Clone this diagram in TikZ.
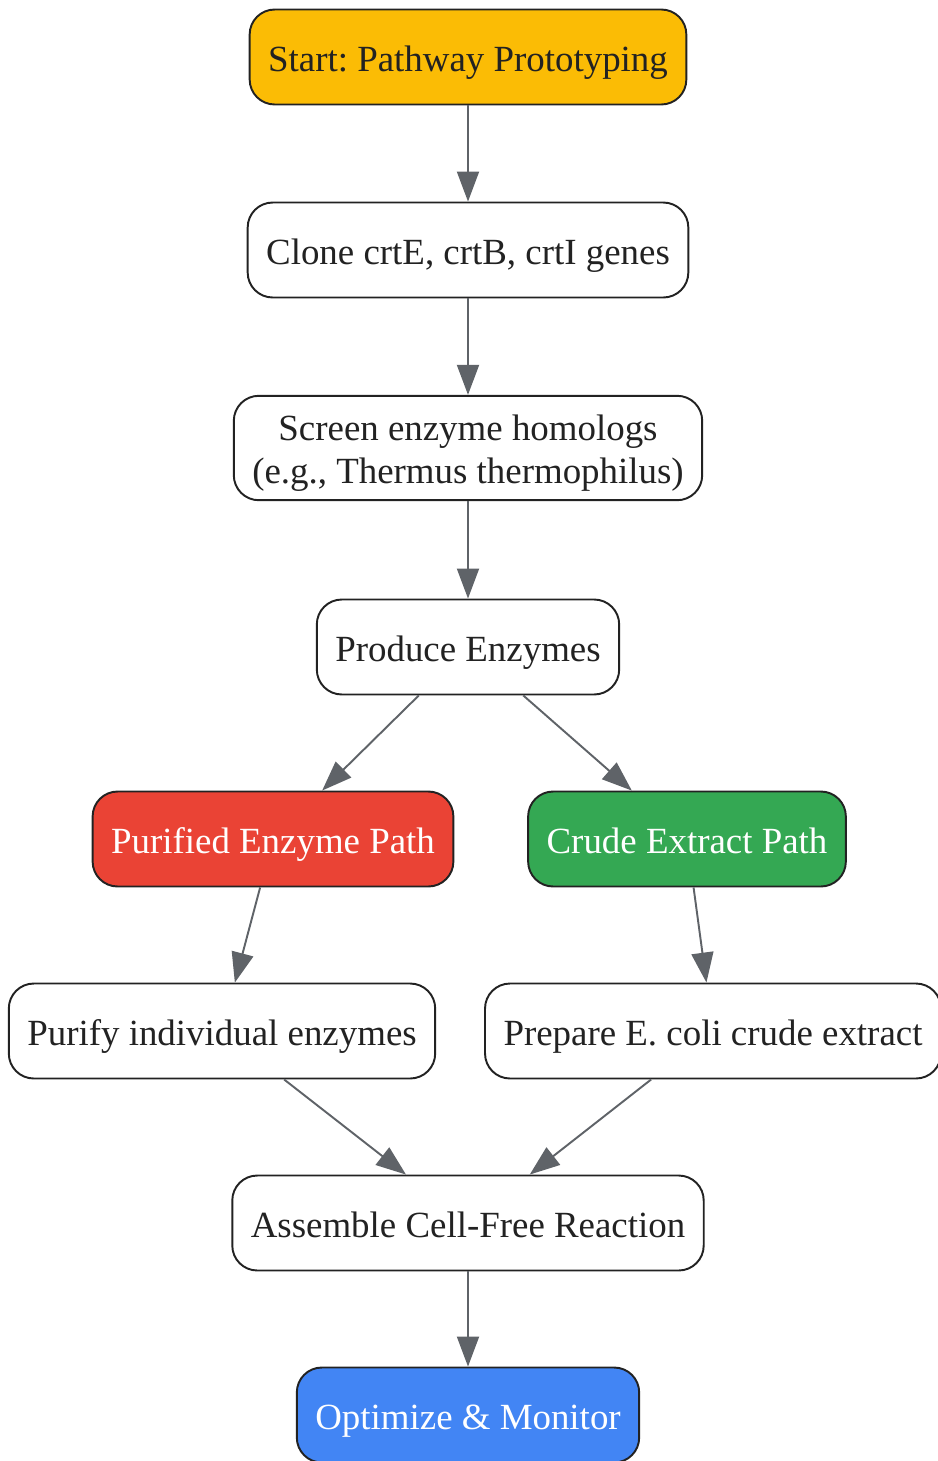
\documentclass[tikz,border=0pt]{standalone}
\usepackage{fontspec}
\setmainfont{Liberation Serif}
\frenchspacing
\usetikzlibrary{arrows.meta}
\definecolor{startyellow}{HTML}{FBBC05}
\definecolor{pathred}{HTML}{EA4335}
\definecolor{pathgreen}{HTML}{34A853}
\definecolor{endblue}{HTML}{4285F4}
\definecolor{edgegray}{HTML}{5F6368}
\definecolor{inkdark}{HTML}{222222}

\begin{document}
\begin{tikzpicture}[x=0.02cm,y=-0.02cm,
        stepbox/.style={draw=inkdark, line width=1.1pt, rounded corners=0.5cm, fill=white,
            text=inkdark, minimum height=1.9cm, inner xsep=0.37cm, inner ysep=0.3cm,
            text height=19pt, text depth=2.6pt,
            align=center, font=\fontsize{21}{24.4}\selectfont},
        whitetext/.style={text=white},
        flow/.style={draw=edgegray, line width=1.1pt, -{Triangle[length=0.6cm,width=0.44cm]}}]
        \useasboundingbox (0,0) rectangle (937,1461);

        \node[stepbox, fill=startyellow] (start) at (468,57) {Start: Pathway Prototyping};
        \node[stepbox] (clone) at (468,250) {Clone crtE, crtB, crtI genes};
        \node[stepbox, text height=43pt, text depth=2.2pt, inner ysep=0.25cm] (screen) at (468,448)
            {Screen enzyme homologs\\(e.g., Thermus thermophilus)};
        \node[stepbox] (produce) at (468,647) {Produce Enzymes};

        \node[stepbox, fill=pathred, whitetext] (purified) at (273,839) {Purified Enzyme Path};
        \node[stepbox, fill=pathgreen, whitetext] (crude) at (687,839) {Crude Extract Path};

        \node[stepbox] (purify) at (222,1031) {Purify individual enzymes};
        \node[stepbox] (prepare) at (713,1031) {Prepare E. coli crude extract};

        \node[stepbox] (assemble) at (468,1223) {Assemble Cell-Free Reaction};
        \node[stepbox, fill=endblue, whitetext] (optimize) at (468,1415) {Optimize \& Monitor};

        \draw[flow] (start) -- (clone);
        \draw[flow] (clone) -- (screen);
        \draw[flow] (screen) -- (produce);
        \draw[flow] (produce) -- (purified);
        \draw[flow] (produce) -- (crude);
        \draw[flow] (purified) -- (purify);
        \draw[flow] (crude) -- (prepare);
        \draw[flow] (purify) -- (assemble);
        \draw[flow] (prepare) -- (assemble);
        \draw[flow] (assemble) -- (optimize);

    \end{tikzpicture}
\end{document}
